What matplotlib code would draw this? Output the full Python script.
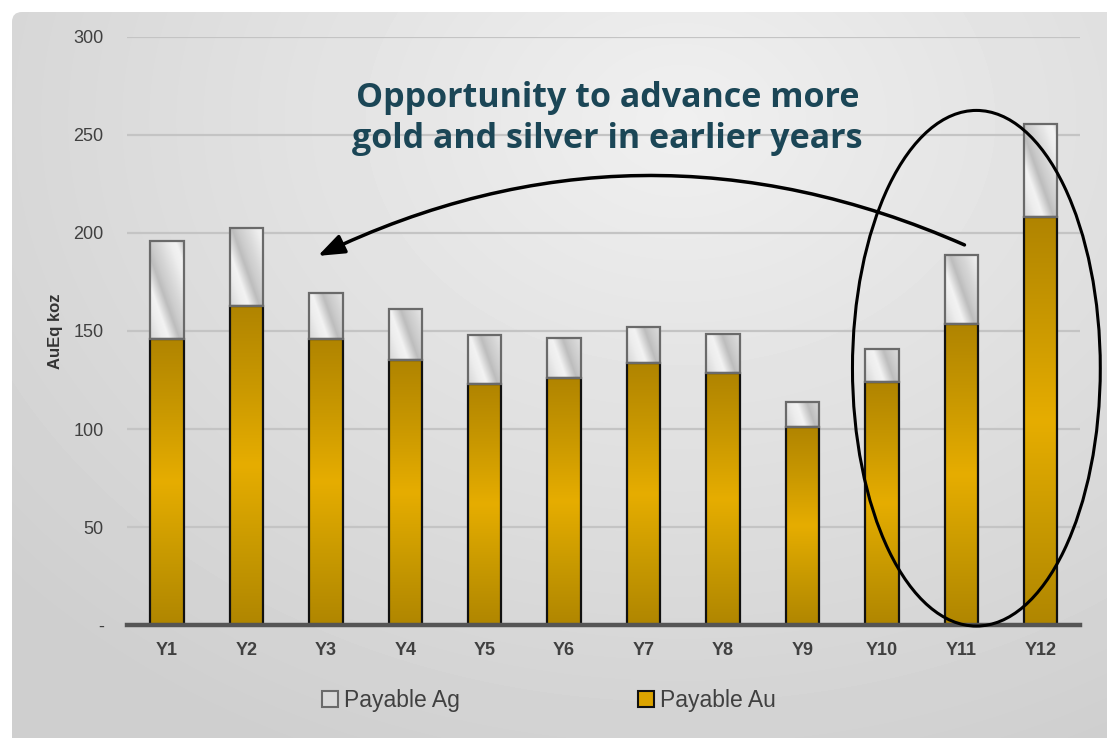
import numpy as np
import matplotlib
matplotlib.use("Agg")
import matplotlib.pyplot as plt
from matplotlib.colors import LinearSegmentedColormap
from matplotlib.patches import FancyBboxPatch, Ellipse, Patch

# payable ounces per year (koz)
years = ["Y1", "Y2", "Y3", "Y4", "Y5", "Y6", "Y7", "Y8", "Y9", "Y10", "Y11", "Y12"]
au = [146, 163, 146, 135, 123, 126, 133.5, 128.5, 101, 124, 153.5, 208]
ag = [50, 39.5, 23.5, 26, 25, 20.5, 18.5, 20, 13, 17, 35.5, 47.5]
yticks = [0, 50, 100, 150, 200, 250, 300]
ytick_labels = ["-", "50", "100", "150", "200", "250", "300"]

sans = ["Liberation Sans", "DejaVu Sans"]
W, H = 1107, 738
fig = plt.figure(figsize=(W / 100, H / 100), dpi=100)
fig.patch.set_facecolor("white")

# grey backdrop with soft light spot near the top
bg = fig.add_axes([0, 0, 1, 1])
bg.set_xlim(0, W)
bg.set_ylim(H, 0)
bg.axis("off")
yy, xx = np.mgrid[0:H, 0:W]
r = np.sqrt(((xx - 680) / 900.0) ** 2 + ((yy - 120) / 700.0) ** 2)
shade = 0.94 - 0.13 * np.clip(r, 0, 1)
im = bg.imshow(shade, cmap="gray", vmin=0, vmax=1, extent=(0, W, H, 0), interpolation="bilinear")
frame = FancyBboxPatch((12, 12), W + 30, H + 30, boxstyle="round,pad=0,rounding_size=10",
                       transform=bg.transData, facecolor="none", edgecolor="none")
bg.add_patch(frame)
im.set_clip_path(frame)

ax = fig.add_axes([0.115, 0.153, 0.861, 0.797])
ax.set_facecolor("none")
x = np.arange(len(years))
bw = 0.42

gold = LinearSegmentedColormap.from_list("gold", ["#b08600", "#c99a00", "#e6ad00", "#c99800", "#b08400"])
steel_pos = [0.0, 0.3, 0.45, 0.7, 0.85, 1.0]
steel_val = [0.84, 0.93, 0.95, 0.74, 0.80, 0.84]

au_bars = ax.bar(x, au, bw, facecolor="none", edgecolor="#111111", lw=1.6, zorder=4)
ag_bars = ax.bar(x, ag, bw, bottom=au, facecolor="none", edgecolor="#6a6a6a", lw=1.6, zorder=4)

# gold: bright band in the middle of each bar
grad = np.linspace(0, 1, 512).reshape(-1, 1)
for b in au_bars:
    x0, y0, w, h = b.get_x(), b.get_y(), b.get_width(), b.get_height()
    g = ax.imshow(grad, cmap=gold, aspect="auto", extent=(x0, x0 + w, y0, y0 + h),
                  origin="lower", zorder=3, interpolation="bilinear")
    g.set_clip_path(b)

# silver: slanted metallic streaks
for b in ag_bars:
    x0, y0, w, h = b.get_x(), b.get_y(), b.get_width(), b.get_height()
    hp = max(int(h * 1.96), 2)
    jj, ii = np.mgrid[0:hp, 0:33]
    s = (ii + 0.35 * jj) / 40.0 % 1.0
    tex = np.interp(s, steel_pos, steel_val)
    g = ax.imshow(tex, cmap="gray", vmin=0, vmax=1, aspect="auto",
                  extent=(x0, x0 + w, y0 + h, y0), zorder=3, interpolation="bilinear")
    g.set_clip_path(b)

ax.set_xlim(-0.5, 11.5)
ax.set_ylim(0, 300)
ax.set_yticks(yticks)
ax.set_yticklabels(ytick_labels, family=sans, fontsize=13, color="#404040")
ax.set_xticks(x)
ax.set_xticklabels(years, family=sans, fontsize=13, fontweight="bold", color="#404040")
ax.tick_params(axis="y", length=0, pad=17)
ax.tick_params(axis="x", length=0, pad=12)
ax.yaxis.grid(True, color="#c4c4c4", lw=1.6, zorder=0)
ax.set_axisbelow(True)
for sp in ["top", "right", "left"]:
    ax.spines[sp].set_visible(False)
ax.spines["bottom"].set_color("#555555")
ax.spines["bottom"].set_linewidth(3.2)
ax.spines["bottom"].set_zorder(5)
ax.set_ylabel("AuEq koz", family=sans, fontsize=12, fontweight="bold", color="#333333")
ax.yaxis.set_label_coords(-0.067, 0.5)

# callout
fig.text(0.549, 0.855, "Opportunity to advance more", ha="center", va="baseline",
         family="Open Sans", fontweight="bold", fontsize=24.5, color="#1b4656")
fig.text(0.549, 0.7995, "gold and silver in earlier years", ha="center", va="baseline",
         family="Open Sans", fontweight="bold", fontsize=24.5, color="#1b4656")
ax.annotate("", xy=(1.9, 188.3), xytext=(10.04, 193.9),
            arrowprops=dict(arrowstyle="-|>,head_length=0.8,head_width=0.3", mutation_scale=20,
                            lw=2.5, color="black", connectionstyle="arc3,rad=0.23",
                            shrinkA=0, shrinkB=0), annotation_clip=False, zorder=6)
ax.add_patch(Ellipse((10.19, 131), 3.12, 263, fill=False, lw=2.2, edgecolor="black",
                     clip_on=False, zorder=6))

handles = [Patch(facecolor="#d9d9d9", edgecolor="#6a6a6a", lw=1.5, label="Payable Ag"),
           Patch(facecolor="#dca400", edgecolor="#111111", lw=1.5, label="Payable Au")]
fig.legend(handles=handles, loc="center", bbox_to_anchor=(0.496, 0.051), ncol=2, frameon=False,
           prop={"family": sans, "size": 16.5}, labelcolor="#404040", handlelength=0.7,
           handleheight=0.7, handletextpad=0.25, columnspacing=7.8)

fig.savefig("out.png", dpi=100)
